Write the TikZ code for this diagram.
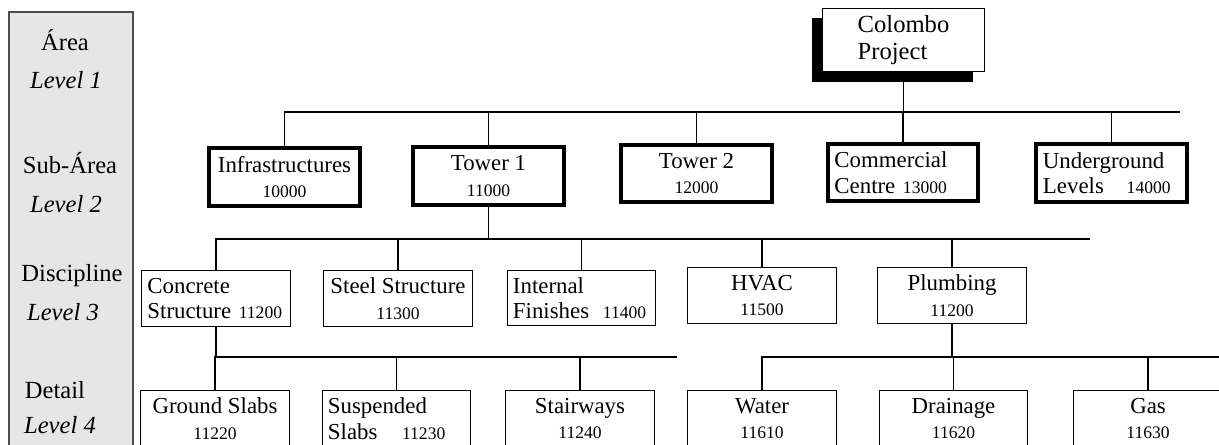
\documentclass[tikz,border=0pt]{standalone}
\usepackage{fontspec}
\setmainfont{Liberation Serif}
\usetikzlibrary{shadows}

\definecolor{panelgray}{RGB}{230,230,230}
\newcommand{\wbsfont}{\fontsize{13}{14.5}\selectfont}
\newcommand{\wbsnum}{\fontsize{10}{12}\selectfont}
\newcommand{\lvlfont}{\fontsize{14}{16}\selectfont}

\tikzset{
  wbs/.style={draw, line width=0.6pt, minimum width=84.5pt, minimum height=31.7pt,
    inner sep=1pt, font=\wbsfont, align=center},
  subarea/.style={wbs, line width=2.3pt, minimum width=85.6pt, minimum height=32.9pt},
  lefttext/.style={text width=78pt, align=left},
  lvltxt/.style={font=\lvlfont},
  lvlnum/.style={font=\lvlfont\itshape},
  bus/.style={line width=0.6pt}
}

\begin{document}
\begin{tikzpicture}[x=0.02cm, y=-0.02cm]
\clip (0,0) rectangle (1219,445);

% level column
\draw[fill=panelgray, draw=black!70, line width=0.6pt] (9,12) rectangle (133,460);
\node[lvltxt] (area) at (65,40) {Área};
\node[lvlnum] (lvl1) at (66,80) {Level 1};
\node[lvltxt] (subarea) at (70,163) {Sub-Área};
\node[lvlnum] (lvl2) at (66,204) {Level 2};
\node[lvltxt] (discipline) at (72,276) {Discipline};
\node[lvlnum] (lvl3) at (63,312) {Level 3};
\node[lvltxt] (detail) at (55,390) {Detail};
\node[lvlnum] (lvl4) at (60,425) {Level 4};

% level 1
\node[draw, fill=white, line width=0.6pt, minimum width=92pt, minimum height=36pt,
  align=left, font=\fontsize{14}{15}\selectfont,
  drop shadow={shadow xshift=-6.2pt, shadow yshift=-5.7pt, fill=black, opacity=1}]
  (colombo) at (903.5,40) {Colombo\\Project};

% level 2
\node[subarea] (infra) at (284.5,177) {Infrastructures\\{\wbsnum 10000}};
\node[subarea] (tower1) at (488.5,176) {Tower 1\\{\wbsnum 11000}};
\node[subarea] (tower2) at (696.5,173.5) {Tower 2\\{\wbsnum 12000}};
\node[subarea, lefttext] (commercial) at (903,172.5) {Commercial\\Centre {\wbsnum 13000}};
\node[subarea, lefttext] (underground) at (1111.5,173) {Underground\\Levels\hspace{13pt}{\wbsnum 14000}};

% level 3
\node[wbs, lefttext] (concrete) at (216,298.5) {Concrete\\Structure {\wbsnum 11200}};
\node[wbs] (steel) at (398,298.5) {Steel Structure\\{\wbsnum 11300}};
\node[wbs, lefttext] (internal) at (581.5,298) {Internal\\Finishes\hspace{3.5pt} {\wbsnum 11400}};
\node[wbs] (hvac) at (762,295.5) {HVAC\\{\wbsnum 11500}};
\node[wbs] (plumbing) at (952,295.5) {Plumbing\\{\wbsnum 11200}};

% level 4
\node[wbs] (ground) at (215,418.5) {Ground Slabs\\{\wbsnum 11220}};
\node[wbs, lefttext] (suspended) at (396.5,418.5) {Suspended\\Slabs\hspace{14pt}{\wbsnum 11230}};
\node[wbs] (stairways) at (580,418.5) {Stairways\\{\wbsnum 11240}};
\node[wbs] (water) at (762,418.5) {Water\\{\wbsnum 11610}};
\node[wbs] (drainage) at (953.5,418.5) {Drainage\\{\wbsnum 11620}};
\node[wbs] (gas) at (1148,418.5) {Gas\\{\wbsnum 11630}};

% connectors
\coordinate (bus1) at (1180,112);
\coordinate (bus2) at (1090,239);
\coordinate (bus3) at (677,357);
\coordinate (bus4) at (1225,357);

\draw[bus] (colombo.south) -- (colombo.south |- bus1);
\draw[bus] (infra.north) |- (bus1);
\draw[bus] (tower1.north) -- (tower1.north |- bus1);
\draw[bus] (tower2.north) -- (tower2.north |- bus1);
\draw[bus] (commercial.north) -- (commercial.north |- bus1);
\draw[bus] (underground.north) -- (underground.north |- bus1);

\draw[bus] (tower1.south) -- (tower1.south |- bus2);
\draw[bus] (concrete.north) |- (bus2);
\draw[bus] (steel.north) -- (steel.north |- bus2);
\draw[bus] (internal.north) -- (internal.north |- bus2);
\draw[bus] (hvac.north) -- (hvac.north |- bus2);
\draw[bus] (plumbing.north) -- (plumbing.north |- bus2);

\draw[bus] (concrete.south) -- (concrete.south |- bus3);
\draw[bus] (ground.north) |- (bus3);
\draw[bus] (suspended.north) -- (suspended.north |- bus3);
\draw[bus] (stairways.north) -- (stairways.north |- bus3);

\draw[bus] (plumbing.south) -- (plumbing.south |- bus4);
\draw[bus] (water.north) |- (bus4);
\draw[bus] (drainage.north) -- (drainage.north |- bus4);
\draw[bus] (gas.north) -- (gas.north |- bus4);
\end{tikzpicture}
\end{document}
